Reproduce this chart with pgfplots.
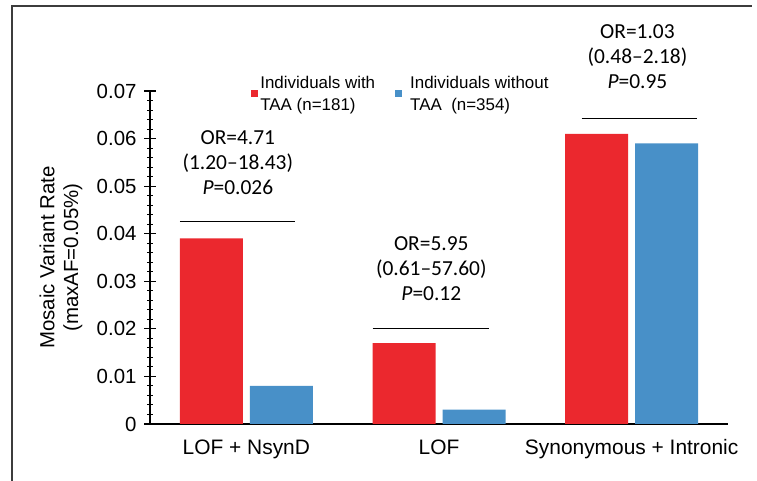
\documentclass[border=0pt]{standalone}
\usepackage{pgfplots}
\pgfplotsset{compat=1.18}
\usepackage{fontspec}
\setmainfont{Liberation Sans}
\newfontfamily\calib{Carlito}
\definecolor{barred}{RGB}{235,40,46}
\definecolor{barblue}{RGB}{72,144,200}
\definecolor{framegray}{RGB}{60,60,60}
\begin{document}
\begin{tikzpicture}
\path[use as bounding box] (0,0) rectangle (757bp,481bp);
\draw[line width=2bp, framegray] (12bp,0) -- (12bp,475bp) -- (752bp,475bp);
\begin{axis}[
  at={(150bp,57bp)}, anchor=south west,
  scale only axis, width=578bp, height=333bp,
  xmin=-0.5, xmax=2.5, ymin=0, ymax=0.07,
  axis lines*=left,
  axis line style={line width=1.2bp, black},
  ybar=7bp, bar width=63bp,
  xtick={0,1,2},
  xticklabels={LOF + NsynD, LOF, Synonymous + Intronic},
  x tick style={draw=none},
  xticklabel style={font=\fontsize{21}{24}\selectfont, yshift=-6bp},
  ytick={0,0.01,0.02,0.03,0.04,0.05,0.06,0.07},
  yticklabels={0,0.01,0.02,0.03,0.04,0.05,0.06,0.07},
  scaled y ticks=false,
  minor y tick num=4,
  tick align=center,
  major tick length=12bp, minor tick length=6bp,
  y tick style={line width=1.2bp, black},
  minor y tick style={line width=1bp, black},
  yticklabel style={font=\fontsize{20.5}{24}\selectfont, xshift=-4bp},
  /pgf/number format/assume math mode=true,
  ylabel={Mosaic Variant Rate\\(maxAF=0.05\%)},
  ylabel style={at={(axis description cs:-0.154,0.5)}, anchor=center, align=center, font=\fontsize{20.5}{24}\selectfont},
  clip=false,
  legend columns=2,
  legend style={at={(axis description cs:0.175,1.052)}, anchor=north west, draw=none, fill=none, inner sep=0pt,
    font=\fontsize{17}{22}\selectfont, cells={align=left},
    /tikz/every even column/.append style={column sep=18bp}},
  legend image code/.code={\fill[#1] (0bp,-3.5bp) rectangle (7bp,3.5bp);},
]
\addplot[fill=barred, draw=none] coordinates {(0,0.039) (1,0.017) (2,0.061)};
\addplot[fill=barblue, draw=none] coordinates {(0,0.008) (1,0.003) (2,0.059)};
\legend{Individuals with\\TAA (n=181), \hspace{6bp}Individuals without\\\hspace{6bp}TAA\ \ (n=354)}
\draw[line width=1bp, black] (axis cs:-0.345,0.0425) -- (axis cs:0.25,0.0425);
\draw[line width=1bp, black] (axis cs:0.655,0.020) -- (axis cs:1.26,0.020);
\draw[line width=1bp, black] (axis cs:1.74,0.0643) -- (axis cs:2.34,0.0643);
\node[align=center, font=\calib\fontsize{21.5}{25}\selectfont] at (axis cs:-0.044,0.0549) {OR=4.71\\(1.20–18.43)\\\textit{P}=0.026};
\node[align=center, font=\calib\fontsize{21.5}{25}\selectfont] at (axis cs:0.96,0.0326) {OR=5.95\\(0.61–57.60)\\\textit{P}=0.12};
\node[align=center, font=\calib\fontsize{21.5}{25}\selectfont] at (axis cs:2.03,0.0772) {OR=1.03\\(0.48–2.18)\\\textit{P}=0.95};
\end{axis}
\end{tikzpicture}
\end{document}
